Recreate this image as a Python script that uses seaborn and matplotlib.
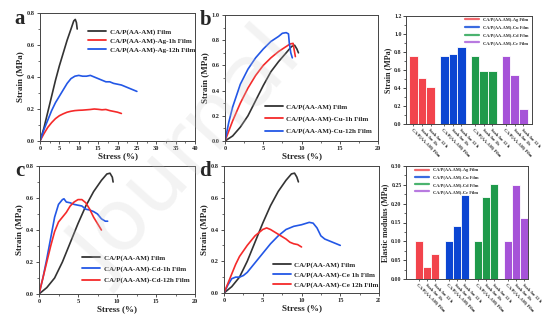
import numpy as np
import pandas as pd
import matplotlib
matplotlib.use('Agg')
import matplotlib.pyplot as plt
import seaborn as sns
from matplotlib.lines import Line2D
from matplotlib.patches import Rectangle
from matplotlib.ticker import MultipleLocator, FormatStrFormatter

sns.set_theme(style='ticks')
plt.rcParams['font.family'] = ['Liberation Serif', 'DejaVu Serif']
plt.rcParams['font.weight'] = 'bold'
plt.rcParams['axes.labelweight'] = 'bold'

# ---------------- data ----------------
# panel a
a_pure_x = [0, 1, 2, 3, 4, 5, 6, 7, 8, 8.7, 9.1, 9.4, 9.6]
a_pure_y = [0, 0.08, 0.18, 0.28, 0.38, 0.47, 0.55, 0.63, 0.70, 0.75, 0.76, 0.74, 0.70]
a_ag1_x = [0, 1, 2, 3, 4, 5, 6, 7, 8, 9, 10, 11, 12, 13, 14, 15, 16, 17, 18, 19, 20, 21]
a_ag1_y = [0, 0.045, 0.085, 0.115, 0.14, 0.158, 0.17, 0.18, 0.186, 0.19, 0.192, 0.193,
           0.195, 0.197, 0.2, 0.198, 0.195, 0.197, 0.19, 0.185, 0.18, 0.172]
a_ag12_x = [0, 1, 2, 3, 4, 5, 6, 7, 8, 9, 10, 11, 12, 13, 14, 15, 16, 17, 18, 19, 20,
            21, 22, 23, 24, 25]
a_ag12_y = [0, 0.07, 0.13, 0.19, 0.24, 0.28, 0.32, 0.36, 0.39, 0.405, 0.41, 0.405,
            0.405, 0.41, 0.40, 0.39, 0.38, 0.37, 0.37, 0.36, 0.355, 0.35, 0.34, 0.33,
            0.32, 0.31]
a_labels = ['CA/P(AA-AM) Film', 'CA/P(AA-AM)-Ag-1h Film', 'CA/P(AA-AM)-Ag-12h Film']

# panel b
b_pure_x = [0, 1, 2, 3, 4, 5, 6, 7, 8, 8.7, 9.1, 9.4, 9.6]
b_pure_y = [0, 0.04, 0.11, 0.20, 0.32, 0.44, 0.55, 0.63, 0.70, 0.75, 0.76, 0.73, 0.70]
b_cu1_x = [0, 0.5, 1, 2, 3, 4, 5, 6, 7, 8, 8.5, 8.9, 9.05, 9.2]
b_cu1_y = [0, 0.08, 0.16, 0.30, 0.42, 0.52, 0.60, 0.66, 0.71, 0.75, 0.77, 0.775, 0.72, 0.67]
b_cu12_x = [0, 0.5, 1, 2, 3, 4, 5, 6, 7, 7.5, 8, 8.3, 8.4, 8.6, 8.8]
b_cu12_y = [0, 0.15, 0.27, 0.45, 0.57, 0.66, 0.73, 0.79, 0.83, 0.855, 0.86, 0.85,
            0.78, 0.70, 0.66]
b_labels = ['CA/P(AA-AM) Film', 'CA/P(AA-AM)-Cu-1h Film', 'CA/P(AA-AM)-Cu-12h Film']

# panel c
c_pure_x = [0, 1, 2, 3, 4, 5, 6, 7, 8, 8.7, 9.1, 9.4, 9.5]
c_pure_y = [0, 0.04, 0.10, 0.20, 0.32, 0.44, 0.55, 0.64, 0.71, 0.75, 0.755, 0.73, 0.70]
c_cd1_x = [0, 0.5, 1, 1.5, 2, 2.5, 3, 3.2, 3.5, 4, 4.5, 5, 5.5, 6, 6.5, 7, 7.5, 8,
           8.5, 8.8]
c_cd1_y = [0, 0.10, 0.22, 0.35, 0.48, 0.56, 0.59, 0.595, 0.575, 0.57, 0.56, 0.555,
           0.55, 0.53, 0.525, 0.515, 0.50, 0.47, 0.455, 0.455]
c_cd12_x = [0, 0.5, 1, 1.5, 2, 2.5, 3, 3.5, 4, 4.5, 5, 5.5, 6, 6.5, 7, 7.5, 8]
c_cd12_y = [0, 0.10, 0.20, 0.30, 0.39, 0.45, 0.48, 0.51, 0.55, 0.575, 0.59, 0.59,
            0.57, 0.53, 0.48, 0.44, 0.40]
c_labels = ['CA/P(AA-AM) Film', 'CA/P(AA-AM)-Cd-1h Film', 'CA/P(AA-AM)-Cd-12h Film']

# panel d
d_pure_x = [0, 1, 2, 3, 4, 5, 6, 7, 8, 8.7, 9.1, 9.4, 9.6]
d_pure_y = [0, 0.04, 0.10, 0.20, 0.32, 0.44, 0.55, 0.64, 0.71, 0.75, 0.755, 0.73, 0.70]
d_ce1_x = [0, 0.5, 1, 1.5, 2, 2.5, 3, 4, 5, 6, 7, 8, 9, 10, 11, 11.5, 12, 12.5, 13,
           14, 15]
d_ce1_y = [0, 0.05, 0.09, 0.10, 0.10, 0.11, 0.13, 0.19, 0.25, 0.31, 0.36, 0.40, 0.42,
           0.43, 0.445, 0.44, 0.41, 0.36, 0.34, 0.32, 0.30]
d_ce12_x = [0, 0.5, 1, 1.5, 2, 3, 4, 5, 5.5, 6, 7, 8, 8.5, 9, 9.5, 10]
d_ce12_y = [0, 0.06, 0.12, 0.18, 0.23, 0.30, 0.36, 0.40, 0.41, 0.40, 0.37, 0.34,
            0.32, 0.31, 0.305, 0.29]
d_labels = ['CA/P(AA-AM) Film', 'CA/P(AA-AM)-Ce 1h Film', 'CA/P(AA-AM)-Ce 12h Film']

# bar charts
bar_groups = ['CA/P(AA-AM)-Ag Film', 'CA/P(AA-AM)-Cu Film',
              'CA/P(AA-AM)-Cd Film', 'CA/P(AA-AM)-Ce Film']
bar_ticklabels = ['CA/P(AA-AM) Film', 'Soak for 1h', 'Soak for 12 h']
strain_vals = [[0.76, 0.51, 0.41], [0.76, 0.78, 0.86],
               [0.76, 0.59, 0.59], [0.76, 0.54, 0.165]]
modulus_vals = [[0.102, 0.032, 0.067], [0.102, 0.14, 0.222],
                [0.102, 0.218, 0.252], [0.102, 0.25, 0.163]]

# ---------------- styles ----------------
C_BLACK = '#333333'
C_RED = '#f52a2a'
C_BLUE = '#2357e6'
bar_colors = ['#f2444c', '#0b45d2', '#1f9a4b', '#a653d8']
legend_bar_colors = ['#f26b70', '#3b6be0', '#4bb36f', '#b87ae0']

W, H = 554, 326
fig = plt.figure(figsize=(W / 100, H / 100), dpi=100)


def box(l, r, t, b):
    return [l / W, 1 - b / H, (r - l) / W, (b - t) / H]


TICK_FS = 4.6
LAB_FS = 6.5


def style_axes(ax, xmaj, xmin, ymaj, ymin, yfmt, xfmt='%d'):
    ax.xaxis.set_major_locator(MultipleLocator(xmaj))
    ax.xaxis.set_minor_locator(MultipleLocator(xmin))
    ax.yaxis.set_major_locator(MultipleLocator(ymaj))
    ax.yaxis.set_minor_locator(MultipleLocator(ymin))
    ax.yaxis.set_major_formatter(FormatStrFormatter(yfmt))
    ax.xaxis.set_major_formatter(FormatStrFormatter(xfmt))
    ax.tick_params(which='major', direction='out', length=2.5, width=0.6,
                   labelsize=TICK_FS, pad=1.2, color='#333333')
    ax.tick_params(which='minor', direction='out', length=1.3, width=0.5,
                   color='#333333')
    for s in ax.spines.values():
        s.set_visible(True)
        s.set_linewidth(0.7)
        s.set_color('#444444')
    for lab in ax.get_xticklabels() + ax.get_yticklabels():
        lab.set_fontweight('bold')


def line_panel(rect, curves, labels, colors, xlim, ylim, ymaj, leg_anchor,
               leg_spacing):
    ax = fig.add_axes(rect)
    rows = []
    for (xs, ys), lab in zip(curves, labels):
        rows.append(pd.DataFrame({'x': xs, 'y': ys, 'series': lab}))
    df = pd.concat(rows, ignore_index=True)
    pal = dict(zip(labels, colors))
    sns.lineplot(data=df, x='x', y='y', hue='series', palette=pal, sort=False,
                 estimator=None, linewidth=1.2, ax=ax, legend=False)
    ax.set_xlim(*xlim)
    ax.set_ylim(*ylim)
    style_axes(ax, 5, 2.5, ymaj, ymaj / 2, '%.1f')
    ax.set_xlabel('Stress (%)', fontsize=LAB_FS, fontweight='bold', labelpad=1)
    ax.set_ylabel('Strain (MPa)', fontsize=LAB_FS, fontweight='bold', labelpad=2)
    handles = [Line2D([], [], color=pal[l], lw=1.3) for l in labels]
    ax.legend(handles, labels, loc='upper left', bbox_to_anchor=leg_anchor,
              frameon=False, prop={'weight': 'bold', 'size': 5},
              handlelength=2.6, handletextpad=0.5, labelspacing=leg_spacing,
              borderpad=0, borderaxespad=0)
    return ax


ax_a = line_panel(box(40, 195, 13, 141),
                  [(a_pure_x, a_pure_y), (a_ag1_x, a_ag1_y), (a_ag12_x, a_ag12_y)],
                  a_labels, [C_BLACK, C_RED, C_BLUE],
                  (0, 40), (0, 0.8), 0.2, (0.31, 0.88), 0.4)
ax_b = line_panel(box(225, 378, 15, 141),
                  [(b_pure_x, b_pure_y), (b_cu1_x, b_cu1_y), (b_cu12_x, b_cu12_y)],
                  b_labels, [C_BLACK, C_RED, C_BLUE],
                  (0, 20), (0, 1.0), 0.2, (0.26, 0.295), 0.85)
ax_c = line_panel(box(39, 195, 166, 294),
                  [(c_pure_x, c_pure_y), (c_cd1_x, c_cd1_y), (c_cd12_x, c_cd12_y)],
                  c_labels, [C_BLACK, C_BLUE, C_RED],
                  (0, 20), (0, 0.8), 0.2, (0.276, 0.31), 0.75)
ax_d = line_panel(box(224, 379, 166, 293),
                  [(d_pure_x, d_pure_y), (d_ce1_x, d_ce1_y), (d_ce12_x, d_ce12_y)],
                  d_labels, [C_BLACK, C_BLUE, C_RED],
                  (0, 20), (0, 0.8), 0.2, (0.314, 0.245), 0.55)

# white mask over right part (bar charts are pasted on top in the original)
fig.add_artist(Rectangle((380 / W, 0), 1 - 380 / W, 1, transform=fig.transFigure,
                         facecolor='white', edgecolor='none', zorder=5))


def bar_panel(rect, vals, gap, xlim, ylim, ymaj, ymin, yfmt, ylabel, leg_anchor,
              leg_spacing):
    ax = fig.add_axes(rect)
    ax.set_zorder(10)
    xs, ys, gs, tl = [], [], [], []
    for g, (grp, v) in enumerate(zip(bar_groups, vals)):
        for i, val in enumerate(v):
            xs.append(g * gap + i)
            ys.append(val)
            gs.append(grp)
            tl.append(bar_ticklabels[i])
    df = pd.DataFrame({'x': xs, 'y': ys, 'grp': gs})
    pal = dict(zip(bar_groups, bar_colors))
    sns.barplot(data=df, x='x', y='y', hue='grp', palette=pal, native_scale=True,
                dodge=False, width=1.0, edgecolor='white', linewidth=0.6,
                saturation=1, legend=False, ax=ax)
    ax.set_xlim(*xlim)
    ax.set_ylim(*ylim)
    ax.yaxis.set_major_locator(MultipleLocator(ymaj))
    ax.yaxis.set_minor_locator(MultipleLocator(ymin))
    ax.yaxis.set_major_formatter(FormatStrFormatter(yfmt))
    ax.set_xticks(xs)
    ax.set_xticklabels(tl, rotation=-45, ha='left', rotation_mode='anchor',
                       fontsize=3.2, fontweight='bold')
    ax.tick_params(axis='y', which='major', direction='out', length=2.2, width=0.6,
                   labelsize=4.2, pad=1)
    ax.tick_params(axis='y', which='minor', direction='out', length=1.2, width=0.5)
    ax.tick_params(axis='x', which='major', direction='out', length=1.5, width=0.5,
                   pad=1)
    for lab in ax.get_yticklabels():
        lab.set_fontweight('bold')
    for s in ax.spines.values():
        s.set_visible(True)
        s.set_linewidth(0.7)
        s.set_color('#444444')
    ax.set_xlabel('')
    ax.set_ylabel(ylabel, fontsize=5.8, fontweight='bold', labelpad=1.5)
    handles = [Line2D([], [], color=c, lw=1.6) for c in legend_bar_colors]
    ax.legend(handles, bar_groups, loc='upper left', bbox_to_anchor=leg_anchor,
              frameon=False, prop={'weight': 'bold', 'size': 3.2},
              handlelength=3.2, handletextpad=0.9, labelspacing=leg_spacing,
              borderpad=0, borderaxespad=0)
    return ax


bar_panel(box(406, 532, 16, 124), strain_vals, 3.58, (-0.85, 13.2 + 0.55),
          (0, 1.2), 0.2, 0.1, '%.1f', 'Strain (MPa)', (0.47, 0.985), 0.8)
bar_panel(box(406, 528, 166, 279), modulus_vals, 3.7, (-1.6, 13.6),
          (0, 0.30), 0.05, 0.025, '%.2f', 'Elastic modulus (MPa)', (0.075, 0.98),
          0.7)

# panel letters
for letter, (px, py) in zip('abcd', [(20, 19), (206, 20), (20, 171), (205, 171)]):
    fig.text(px / W, 1 - py / H, letter, fontsize=15, fontweight='bold',
             ha='center', va='center', zorder=20)

# faint watermark
fig.text(0.34, 0.52, 'Journal', fontsize=62, color='#c8c8c8', alpha=0.22,
         rotation=48, ha='center', va='center', family='DejaVu Sans',
         fontweight='normal', zorder=30)

fig.savefig('out.png', dpi=100)
